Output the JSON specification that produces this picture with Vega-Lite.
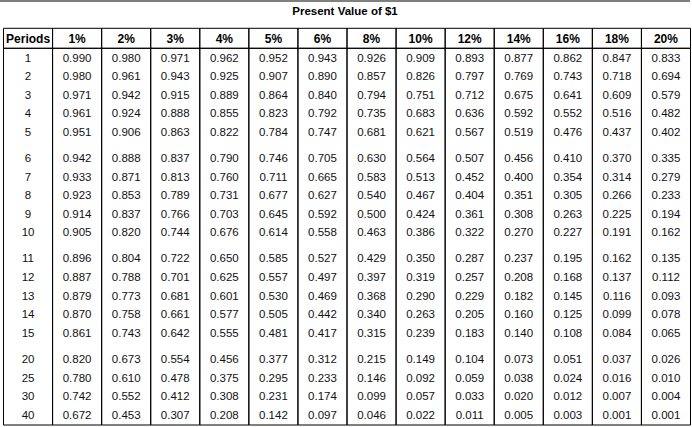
{
  "$schema": "https://vega.github.io/schema/vega-lite/v6.json",
  "width": 690,
  "height": 424,
  "autosize": "none",
  "padding": {"left": 0, "top": 1, "right": 2, "bottom": 2},
  "background": "white",
  "config": {"view": {"stroke": null}, "font": "Liberation Sans"},
  "datasets": {
    "cols": [
      {"col": "Periods"}, {"col": "1%"}, {"col": "2%"}, {"col": "3%"}, {"col": "4%"}, {"col": "5%"}, {"col": "6%"},
      {"col": "8%"}, {"col": "10%"}, {"col": "12%"}, {"col": "14%"}, {"col": "16%"}, {"col": "18%"}, {"col": "20%"}
    ],
    "table": [
      {"period": 1, "1%": 0.990, "2%": 0.980, "3%": 0.971, "4%": 0.962, "5%": 0.952, "6%": 0.943, "8%": 0.926, "10%": 0.909, "12%": 0.893, "14%": 0.877, "16%": 0.862, "18%": 0.847, "20%": 0.833},
      {"period": 2, "1%": 0.980, "2%": 0.961, "3%": 0.943, "4%": 0.925, "5%": 0.907, "6%": 0.890, "8%": 0.857, "10%": 0.826, "12%": 0.797, "14%": 0.769, "16%": 0.743, "18%": 0.718, "20%": 0.694},
      {"period": 3, "1%": 0.971, "2%": 0.942, "3%": 0.915, "4%": 0.889, "5%": 0.864, "6%": 0.840, "8%": 0.794, "10%": 0.751, "12%": 0.712, "14%": 0.675, "16%": 0.641, "18%": 0.609, "20%": 0.579},
      {"period": 4, "1%": 0.961, "2%": 0.924, "3%": 0.888, "4%": 0.855, "5%": 0.823, "6%": 0.792, "8%": 0.735, "10%": 0.683, "12%": 0.636, "14%": 0.592, "16%": 0.552, "18%": 0.516, "20%": 0.482},
      {"period": 5, "1%": 0.951, "2%": 0.906, "3%": 0.863, "4%": 0.822, "5%": 0.784, "6%": 0.747, "8%": 0.681, "10%": 0.621, "12%": 0.567, "14%": 0.519, "16%": 0.476, "18%": 0.437, "20%": 0.402},
      {"period": 6, "1%": 0.942, "2%": 0.888, "3%": 0.837, "4%": 0.790, "5%": 0.746, "6%": 0.705, "8%": 0.630, "10%": 0.564, "12%": 0.507, "14%": 0.456, "16%": 0.410, "18%": 0.370, "20%": 0.335},
      {"period": 7, "1%": 0.933, "2%": 0.871, "3%": 0.813, "4%": 0.760, "5%": 0.711, "6%": 0.665, "8%": 0.583, "10%": 0.513, "12%": 0.452, "14%": 0.400, "16%": 0.354, "18%": 0.314, "20%": 0.279},
      {"period": 8, "1%": 0.923, "2%": 0.853, "3%": 0.789, "4%": 0.731, "5%": 0.677, "6%": 0.627, "8%": 0.540, "10%": 0.467, "12%": 0.404, "14%": 0.351, "16%": 0.305, "18%": 0.266, "20%": 0.233},
      {"period": 9, "1%": 0.914, "2%": 0.837, "3%": 0.766, "4%": 0.703, "5%": 0.645, "6%": 0.592, "8%": 0.500, "10%": 0.424, "12%": 0.361, "14%": 0.308, "16%": 0.263, "18%": 0.225, "20%": 0.194},
      {"period": 10, "1%": 0.905, "2%": 0.820, "3%": 0.744, "4%": 0.676, "5%": 0.614, "6%": 0.558, "8%": 0.463, "10%": 0.386, "12%": 0.322, "14%": 0.270, "16%": 0.227, "18%": 0.191, "20%": 0.162},
      {"period": 11, "1%": 0.896, "2%": 0.804, "3%": 0.722, "4%": 0.650, "5%": 0.585, "6%": 0.527, "8%": 0.429, "10%": 0.350, "12%": 0.287, "14%": 0.237, "16%": 0.195, "18%": 0.162, "20%": 0.135},
      {"period": 12, "1%": 0.887, "2%": 0.788, "3%": 0.701, "4%": 0.625, "5%": 0.557, "6%": 0.497, "8%": 0.397, "10%": 0.319, "12%": 0.257, "14%": 0.208, "16%": 0.168, "18%": 0.137, "20%": 0.112},
      {"period": 13, "1%": 0.879, "2%": 0.773, "3%": 0.681, "4%": 0.601, "5%": 0.530, "6%": 0.469, "8%": 0.368, "10%": 0.290, "12%": 0.229, "14%": 0.182, "16%": 0.145, "18%": 0.116, "20%": 0.093},
      {"period": 14, "1%": 0.870, "2%": 0.758, "3%": 0.661, "4%": 0.577, "5%": 0.505, "6%": 0.442, "8%": 0.340, "10%": 0.263, "12%": 0.205, "14%": 0.160, "16%": 0.125, "18%": 0.099, "20%": 0.078},
      {"period": 15, "1%": 0.861, "2%": 0.743, "3%": 0.642, "4%": 0.555, "5%": 0.481, "6%": 0.417, "8%": 0.315, "10%": 0.239, "12%": 0.183, "14%": 0.140, "16%": 0.108, "18%": 0.084, "20%": 0.065},
      {"period": 20, "1%": 0.820, "2%": 0.673, "3%": 0.554, "4%": 0.456, "5%": 0.377, "6%": 0.312, "8%": 0.215, "10%": 0.149, "12%": 0.104, "14%": 0.073, "16%": 0.051, "18%": 0.037, "20%": 0.026},
      {"period": 25, "1%": 0.780, "2%": 0.610, "3%": 0.478, "4%": 0.375, "5%": 0.295, "6%": 0.233, "8%": 0.146, "10%": 0.092, "12%": 0.059, "14%": 0.038, "16%": 0.024, "18%": 0.016, "20%": 0.010},
      {"period": 30, "1%": 0.742, "2%": 0.552, "3%": 0.412, "4%": 0.308, "5%": 0.231, "6%": 0.174, "8%": 0.099, "10%": 0.057, "12%": 0.033, "14%": 0.020, "16%": 0.012, "18%": 0.007, "20%": 0.004},
      {"period": 40, "1%": 0.672, "2%": 0.453, "3%": 0.307, "4%": 0.208, "5%": 0.142, "6%": 0.097, "8%": 0.046, "10%": 0.022, "12%": 0.011, "14%": 0.005, "16%": 0.003, "18%": 0.001, "20%": 0.001}
    ],
    "title": [{"t": "Present Value of $1"}]
  },
  "layer": [
    {
      "data": {"name": "title"},
      "mark": {"type": "rule", "stroke": "#000", "strokeWidth": 1},
      "encoding": {
        "y": {"datum": 0, "type": "quantitative", "scale": {"domain": [0, 22.8], "reverse": true, "nice": false, "zero": false}, "axis": null}
      }
    },
    {
      "data": {"name": "title"},
      "mark": {"type": "text", "fontWeight": "bold", "fontSize": 11.5, "baseline": "middle", "align": "center", "color": "#000"},
      "encoding": {
        "y": {"datum": 0.60, "type": "quantitative", "axis": null},
        "text": {"field": "t"}
      }
    },
    {
      "data": {"name": "cols"},
      "mark": {"type": "rect", "fill": null, "stroke": "#000", "strokeWidth": 1},
      "encoding": {
        "x": {"field": "col", "type": "nominal", "sort": null, "axis": null,
              "scale": {"type": "band", "domain": ["Periods", "1%", "2%", "3%", "4%", "5%", "6%", "8%", "10%", "12%", "14%", "16%", "18%", "20%"], "range": [3.5, 690.5], "paddingInner": 0, "paddingOuter": 0}},
        "y": {"datum": 1.468, "type": "quantitative", "axis": null},
        "y2": {"datum": 2.543}
      }
    },
    {
      "data": {"name": "cols"},
      "mark": {"type": "rect", "fill": null, "stroke": "#000", "strokeWidth": 1},
      "encoding": {
        "x": {"field": "col", "type": "nominal", "sort": null, "axis": null},
        "y": {"datum": 2.543, "type": "quantitative", "axis": null},
        "y2": {"datum": 22.8}
      }
    },
    {
      "data": {"name": "cols"},
      "mark": {"type": "text", "fontWeight": "bold", "fontSize": 12, "baseline": "middle", "align": "center", "color": "#000"},
      "encoding": {
        "x": {"field": "col", "type": "nominal", "sort": null, "axis": null},
        "y": {"datum": 2.02, "type": "quantitative", "axis": null},
        "text": {"field": "col"}
      }
    },
    {
      "data": {"name": "table"},
      "transform": [
        {"window": [{"op": "row_number", "as": "rn"}], "sort": [{"field": "period"}]},
        {"calculate": "3.092 + (datum.rn - 1) + 0.403 * ((datum.period > 5) + (datum.period > 10) + (datum.period > 15))", "as": "pos"}
      ],
      "mark": {"type": "text", "fontSize": 11.5, "baseline": "middle", "align": "center", "color": "#111"},
      "encoding": {
        "x": {"datum": "Periods", "type": "nominal", "axis": null},
        "y": {"field": "pos", "type": "quantitative", "axis": null},
        "text": {"field": "period", "type": "nominal"}
      }
    },
    {
      "data": {"name": "table"},
      "transform": [
        {"window": [{"op": "row_number", "as": "rn"}], "sort": [{"field": "period"}]},
        {"calculate": "3.092 + (datum.rn - 1) + 0.403 * ((datum.period > 5) + (datum.period > 10) + (datum.period > 15))", "as": "pos"},
        {"fold": ["1%", "2%", "3%", "4%", "5%", "6%", "8%", "10%", "12%", "14%", "16%", "18%", "20%"], "as": ["rate", "value"]}
      ],
      "mark": {"type": "text", "fontSize": 11.5, "baseline": "middle", "align": "center", "color": "#111"},
      "encoding": {
        "x": {"field": "rate", "type": "nominal", "sort": null, "axis": null},
        "y": {"field": "pos", "type": "quantitative", "axis": null},
        "text": {"field": "value", "type": "quantitative", "format": ".3f"}
      }
    }
  ]
}
